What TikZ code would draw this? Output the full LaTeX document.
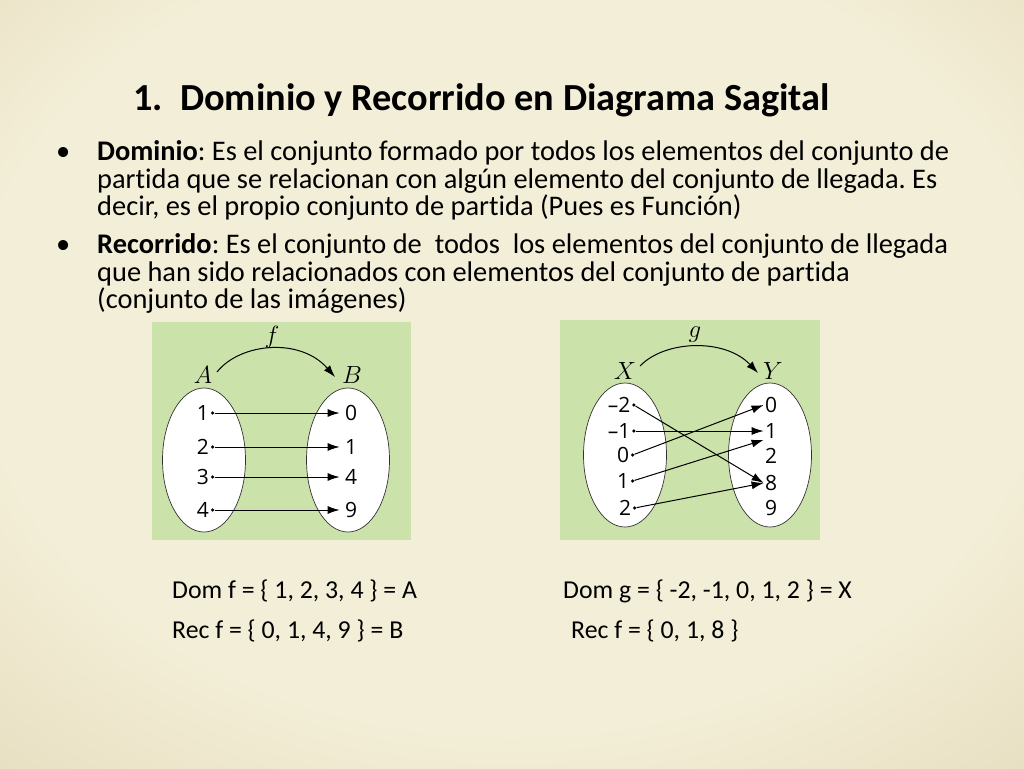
\documentclass[tikz,border=0pt]{standalone}
\usepackage{fontspec}
\setmainfont{Carlito}[Ligatures=NoCommon]
\newfontfamily\numfont{Open Sans}
\usetikzlibrary{arrows.meta,shapes.geometric,positioning}

\definecolor{slidecream}{RGB}{243,238,215}
\definecolor{slidemid}{RGB}{228,218,186}
\definecolor{slidetan}{RGB}{207,190,146}
\definecolor{boxgreen}{RGB}{203,226,170}

\pgfdeclareradialshading{slidebg}{\pgfpoint{0bp}{5bp}}{%
  color(0bp)=(slidecream); color(26bp)=(slidecream); color(42bp)=(slidemid);
  color(62bp)=(slidetan); color(80bp)=(slidetan)}

\frenchspacing
\begin{document}
\begin{tikzpicture}[x=1pt,y=-1pt,
    titletxt/.style={font=\bfseries\fontsize{38.3}{38.3}\selectfont, inner sep=0pt, anchor=base west},
    bodytxt/.style={font=\fontsize{28.4}{28.4}\selectfont, inner sep=0pt, anchor=base west},
    restxt/.style={font=\fontsize{25.8}{25.8}\selectfont, inner sep=0pt, anchor=base west},
    num/.style={font=\numfont\fontsize{21}{21}\selectfont, inner sep=1.2pt},
    setname/.style={font=\fontsize{24}{24}\selectfont, inner sep=1pt},
    pt/.style={circle, fill, inner sep=0pt, minimum size=3.6pt},
    arr/.style={-{Latex[length=12pt,width=8pt]}, line width=1pt},
    blob/.style={draw=black!80, fill=white, ellipse, line width=0.7pt,
      minimum width=83pt, minimum height=144pt}]

  % background of the slide
  \shade[shading=slidebg] (0,0) rectangle (1024,768);
  \useasboundingbox (0,0) rectangle (1024,768);

  % title and text
  \node[titletxt] (title) at (133,110) {1.\ \ Dominio y Recorrido en Diagrama Sagital};

  \node[bodytxt] (b1) at (56,160) {•};
  \node[bodytxt] (l1) at (97,160) {\textbf{Dominio}: Es el conjunto formado por todos los elementos del conjunto de};
  \node[bodytxt] (l2) at (97,188) {partida que se relacionan con algún elemento del conjunto de llegada. Es};
  \node[bodytxt] (l3) at (97,215) {decir, es el propio conjunto de partida (Pues es Función)};
  \node[bodytxt] (b2) at (56,253) {•};
  \node[bodytxt] (l4) at (97,253) {\textbf{Recorrido}: Es el conjunto de\ \ todos\ \ los elementos del conjunto de llegada};
  \node[bodytxt] (l5) at (97,281) {que han sido relacionados con elementos del conjunto de partida};
  \node[bodytxt] (l6) at (97,308) {(conjunto de las imágenes)};

  % diagram of f
  \fill[boxgreen] (152,322) rectangle (411,540);
  \node[blob] (A) at (204,460) {};
  \node[blob] (B) at (348,460) {};
  \node[setname] (nA) at (203,375) {$A$};
  \node[setname] (nB) at (352,375) {$B$};
  \node[setname] (nf) at (272,337) {$f$};
  \coordinate (fs) at (217,372);
  \coordinate (fe) at (335,377);
  \draw[arr] (fs) .. controls (240,343) and (300,337) .. (fe);

  \node[num] (a1) at (203,413) {1};
  \node[num] (a2) at (203,447) {2};
  \node[num] (a3) at (203,477) {3};
  \node[num] (a4) at (203,510) {4};
  \foreach \i in {1,...,4}
    \node[pt, right=0.2pt of a\i] (pa\i) {};

  \node[num] (b0) at (351,413) {0};
  \node[num] (b1n) at (351,447) {1};
  \node[num] (b4) at (351,477) {4};
  \node[num] (b9) at (351,510) {9};

  \draw[arr, shorten >=4pt] (pa1) -- (b0.west);
  \draw[arr, shorten >=4pt] (pa2) -- (b1n.west);
  \draw[arr, shorten >=4pt] (pa3) -- (b4.west);
  \draw[arr, shorten >=4pt] (pa4) -- (b9.west);

  % diagram of g
  \fill[boxgreen] (560,320) rectangle (820,540);
  \node[blob] (X) at (625,455) {};
  \node[blob] (Y) at (770,455) {};
  \node[setname] (nX) at (625,371) {$X$};
  \node[setname] (nY) at (773,371) {$Y$};
  \node[setname] (ng) at (695,335) {$g$};
  \coordinate (gs) at (640,366);
  \coordinate (ge) at (758,373);
  \draw[arr] (gs) .. controls (665,340) and (725,338) .. (ge);

  \node[num] (xm2) at (619,405) {–2};
  \node[num] (xm1) at (619,431) {–1};
  \node[num] (x0) at (623,455) {0};
  \node[num] (x1) at (623,481) {1};
  \node[num] (x2) at (625,508) {2};
  \foreach \n in {xm2,xm1,x0,x1,x2}
    \node[pt, right=0.2pt of \n] (p\n) {};

  \node[num] (y0) at (771,405) {0};
  \node[num] (y1) at (771,431) {1};
  \node[num] (y2) at (771,456) {2};
  \node[num] (y8) at (771,483) {8};
  \node[num] (y9) at (771,508) {9};

  \draw[arr] (pxm2) -- (y8.west);
  \draw[arr] (pxm1) -- (y1.west);
  \draw[arr] (px0) -- (y0.west);
  \draw[arr] (px1) -- (y1.south west);
  \draw[arr] (px2) -- (y8.west);

  % domain and range
  \node[restxt] (domf) at (172,598) {Dom f = \{ 1, 2, 3, 4 \} = A};
  \node[restxt] (recf) at (172,638) {Rec f = \{ 0, 1, 4, 9 \} = B};
  \node[restxt] (domg) at (563,598) {Dom g = \{ -2, -1, 0, 1, 2 \} = X};
  \node[restxt] (recg) at (571,638) {Rec f = \{ 0, 1, 8 \}};
\end{tikzpicture}
\end{document}
